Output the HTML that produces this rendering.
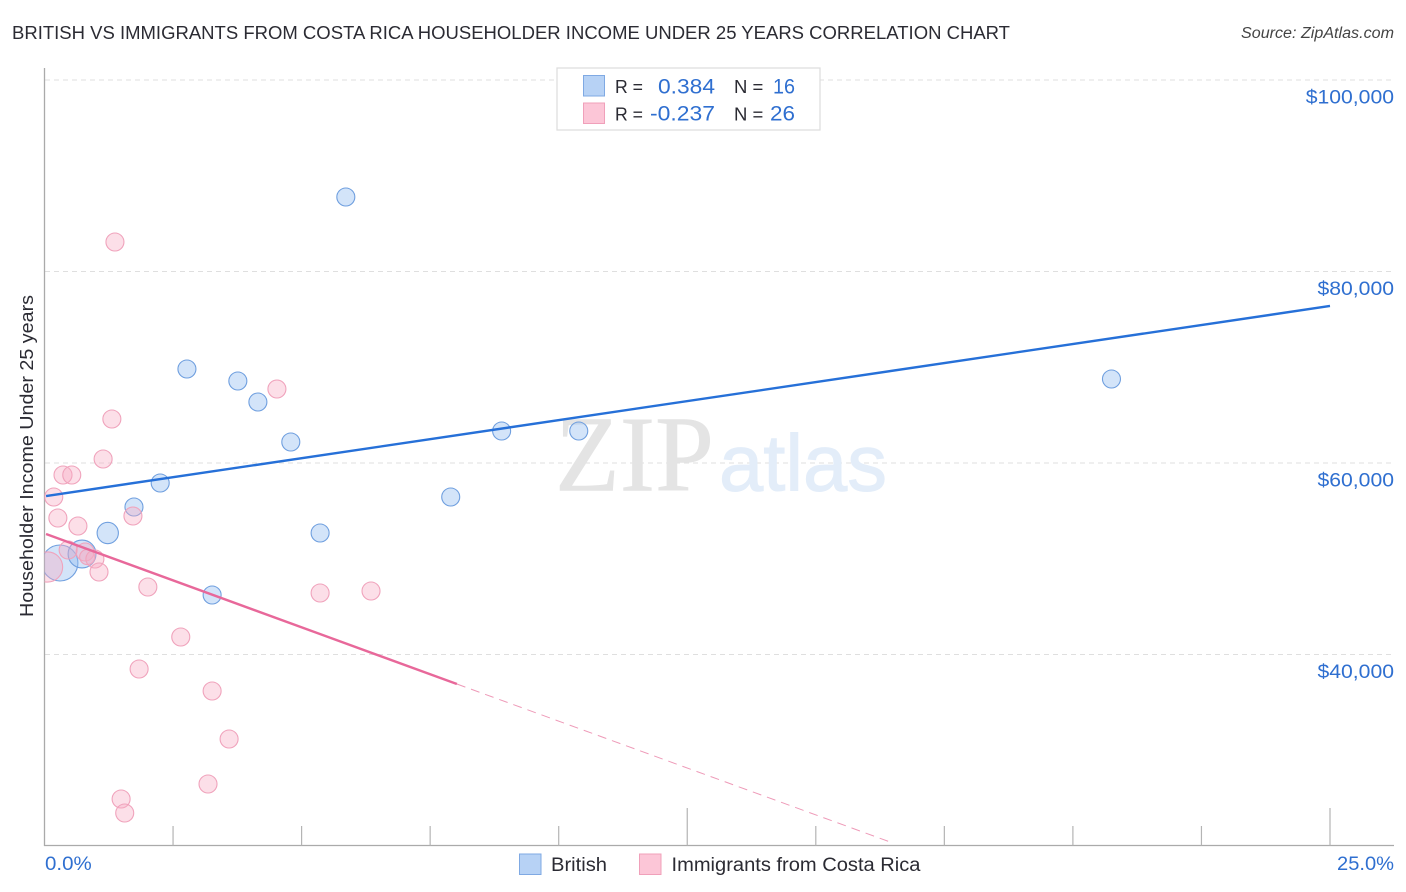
<!DOCTYPE html>
<html>
<head>
<meta charset="utf-8">
<style>
html,body{margin:0;padding:0;background:#fff;}
svg{display:block;font-family:"Liberation Sans",sans-serif;}
</style>
</head>
<body>
<svg id="chart" xmlns="http://www.w3.org/2000/svg" width="1406" height="892" viewBox="0 0 1406 892">
  <defs>
    <clipPath id="plot-clip"><rect x="44.5" y="60" width="1350" height="786"/></clipPath>
  </defs>
  <text x="12" y="39" font-size="18.5" fill="#2b2b33" textLength="998" lengthAdjust="spacingAndGlyphs">BRITISH VS IMMIGRANTS FROM COSTA RICA HOUSEHOLDER INCOME UNDER 25 YEARS CORRELATION CHART</text>
  <text x="1241" y="38" font-size="15.5" font-style="italic" fill="#444" textLength="153" lengthAdjust="spacingAndGlyphs">Source: ZipAtlas.com</text>

  <g id="grid"></g>

  <g>
    <text x="555" y="490.500" font-size="108" font-family="'Liberation Serif',serif" fill="#e4e4e4" stroke="#e4e4e4" stroke-width="0.6" textLength="159" lengthAdjust="spacingAndGlyphs">ZIP</text>
    <text x="719" y="490.500" font-size="80" fill="#e3edf9" stroke="#e3edf9" stroke-width="1" textLength="168" lengthAdjust="spacingAndGlyphs">atlas</text>
  </g>

  <g id="axes"></g>
  <g id="points" clip-path="url(#plot-clip)"></g>
  <g id="trends"></g>
  <g id="labels"></g>

  <text transform="translate(33,456) rotate(-90)" font-size="18.5" fill="#2b2b33" text-anchor="middle" textLength="322" lengthAdjust="spacingAndGlyphs">Householder Income Under 25 years</text>

  <g>
    <rect x="557" y="68" width="263" height="62" fill="#fff" stroke="#dcdcdc" stroke-width="1.2"/>
    <rect x="583.5" y="75.5" width="21" height="20.5" fill="#b7d2f5" stroke="#7fa9e3" stroke-width="1"/>
    <rect x="583.5" y="103" width="21" height="20.5" fill="#fcc6d7" stroke="#f0a0ba" stroke-width="1"/>
    <text x="615" y="93" font-size="18.5" fill="#2b2b33" textLength="28" lengthAdjust="spacingAndGlyphs">R =</text>
    <text x="658" y="93.500" font-size="21.5" fill="#2f6fd0" textLength="57" lengthAdjust="spacingAndGlyphs">0.384</text>
    <text x="734" y="93" font-size="18.5" fill="#2b2b33">N =</text>
    <text x="773" y="93.500" font-size="21.5" fill="#2f6fd0" textLength="22" lengthAdjust="spacingAndGlyphs">16</text>
    <text x="615" y="120.500" font-size="18.5" fill="#2b2b33" textLength="28" lengthAdjust="spacingAndGlyphs">R =</text>
    <text x="650" y="120.500" font-size="21.5" fill="#2f6fd0" textLength="65" lengthAdjust="spacingAndGlyphs">-0.237</text>
    <text x="734" y="120.500" font-size="18.5" fill="#2b2b33">N =</text>
    <text x="770" y="120.500" font-size="21.5" fill="#2f6fd0" textLength="25" lengthAdjust="spacingAndGlyphs">26</text>
  </g>

  <g>
    <rect x="519.5" y="854" width="21.5" height="20.5" fill="#b7d2f5" stroke="#7fa9e3" stroke-width="1"/>
    <text x="551" y="871" font-size="19" fill="#2b2b33" textLength="56" lengthAdjust="spacingAndGlyphs">British</text>
    <rect x="639.5" y="854" width="21.5" height="20.5" fill="#fcc6d7" stroke="#f0a0ba" stroke-width="1"/>
    <text x="671.500" y="871" font-size="19" fill="#2b2b33" textLength="249" lengthAdjust="spacingAndGlyphs">Immigrants from Costa Rica</text>
  </g>
</svg>
<script>
var yTickValues = [100000, 80000, 60000, 40000];
var yTickLabels = ["$100,000", "$80,000", "$60,000", "$40,000"];
var xTickValues = [0, 2.5, 5, 7.5, 10, 12.5, 15, 17.5, 20, 22.5, 25];
var xMajorTicks = [12.5, 25];
var xEndLabels = ["0.0%", "25.0%"];

var britishX = [0.30, 0.73, 1.23, 1.74, 2.25, 2.77, 3.26, 3.76, 4.15, 4.79, 5.36, 5.86, 7.90, 8.89, 10.39, 20.75];
var britishY = [49555, 50495, 52689, 55404, 57911, 69817, 46213, 68564, 66370, 62193, 52689, 87781, 56449, 63342, 63342, 68772];
var britishWeight = [4, 2.4, 1.4, 1, 1, 1, 1, 1, 1, 1, 1, 1, 1, 1, 1, 1];

var costaRicaX = [0.06, 0.18, 0.26, 0.36, 0.53, 0.65, 0.46, 0.79, 0.83, 0.98, 1.06, 1.14, 1.31, 1.37, 1.72, 1.84, 2.01, 2.65, 3.26, 3.59, 3.18, 1.49, 1.56, 4.52, 5.36, 6.35];
var costaRicaY = [49138, 56449, 54255, 58746, 58746, 53420, 50913, 50704, 50182, 49973, 48616, 60417, 64595, 83081, 54464, 38485, 47049, 41827, 36187, 31174, 26474, 24908, 23446, 67728, 46422, 46631];
var costaRicaWeight = [2.8, 1, 1, 1, 1, 1, 1, 1, 0.7, 1, 1, 1, 1, 1, 1, 1, 1, 1, 1, 1, 1, 1, 1, 1, 1, 1];

var britishTrendX = [0.03, 25];
var britishTrendY = [56553, 76397];
var costaRicaTrendX = [0.03, 8.02];
var costaRicaTrendY = [52584, 36918];
var costaRicaDashX = [8.02, 16.5];
var costaRicaDashY = [36918, 20312];

var SVGNS = 'http://www.w3.org/2000/svg';
function xScale(v) { return 44.5 + v / 25 * 1285.5; }
function yScale(v) { return 80 + (100000 - v) / 20000 * 191.5; }
function radius(w) { return 9 * Math.sqrt(w); }
function make(tag, attrs, parent) {
  var el = document.createElementNS(SVGNS, tag);
  for (var k in attrs) { el.setAttribute(k, attrs[k]); }
  parent.appendChild(el);
  return el;
}
function widen(el, factor) {
  el.setAttribute('textLength', el.getComputedTextLength() * factor);
  el.setAttribute('lengthAdjust', 'spacingAndGlyphs');
}

var grid = document.getElementById('grid');
var axes = document.getElementById('axes');
var pointsG = document.getElementById('points');
var trends = document.getElementById('trends');
var labels = document.getElementById('labels');

yTickValues.forEach(function (v, i) {
  var line = make('line', {x1: 45, x2: 1394, y1: yScale(v), y2: yScale(v), stroke: '#dfdfdf', 'stroke-width': 1, 'stroke-dasharray': '5 4'}, grid);
  
  
  var t = make('text', {x: 1394, y: yScale(v) + 23.5, 'font-size': 19.5, fill: '#2f6fd0', 'text-anchor': 'end'}, labels);
  t.textContent = yTickLabels[i];
  
  
  widen(t, 1.085);
});

var yAxis = make('line', {x1: 44.5, x2: 44.5, y1: 68, y2: 846, stroke: '#aaaaaa', 'stroke-width': 1.3}, axes);


var xAxis = make('line', {x1: 44, x2: 1394, y1: 845.5, y2: 845.5, stroke: '#aaaaaa', 'stroke-width': 1.3}, axes);



xTickValues.forEach(function (v) {
  if (v === 0) { return; }
  var top = xMajorTicks.indexOf(v) >= 0 ? 808 : 826;
  var tick = make('line', {x1: xScale(v), x2: xScale(v), y1: top, y2: 845.5, stroke: '#b4b4b4', 'stroke-width': 1.2}, axes);
  
  
});

var x0 = make('text', {x: 45, y: 870, 'font-size': 19.5, fill: '#2f6fd0'}, labels);
x0.textContent = xEndLabels[0];


widen(x0, 1.05);
var x1 = make('text', {x: 1394, y: 870, 'font-size': 19.5, fill: '#2f6fd0', 'text-anchor': 'end'}, labels);
x1.textContent = xEndLabels[1];


widen(x1, 1.03);

britishX.forEach(function (v, i) {
  var c = make('circle', {cx: xScale(v), cy: yScale(britishY[i]), r: radius(britishWeight[i]), fill: 'rgba(150,190,240,0.42)', stroke: '#6f9fdf', 'stroke-width': 1.1}, pointsG);
  
  
});
costaRicaX.forEach(function (v, i) {
  var c = make('circle', {cx: xScale(v), cy: yScale(costaRicaY[i]), r: radius(costaRicaWeight[i]), fill: 'rgba(248,170,195,0.38)', stroke: '#f0a3bc', 'stroke-width': 1.1}, pointsG);
  
  
});

var bt = make('line', {x1: xScale(britishTrendX[0]), y1: yScale(britishTrendY[0]), x2: xScale(britishTrendX[1]), y2: yScale(britishTrendY[1]), stroke: '#2670d8', 'stroke-width': 2.4}, trends);


var pt = make('line', {x1: xScale(costaRicaTrendX[0]), y1: yScale(costaRicaTrendY[0]), x2: xScale(costaRicaTrendX[1]), y2: yScale(costaRicaTrendY[1]), stroke: '#e8689a', 'stroke-width': 2.4}, trends);


var pd = make('line', {x1: xScale(costaRicaDashX[0]), y1: yScale(costaRicaDashY[0]), x2: xScale(costaRicaDashX[1]), y2: yScale(costaRicaDashY[1]), stroke: '#ee9ab8', 'stroke-width': 1, 'stroke-dasharray': '9 6'}, trends);


</script>
</body>
</html>
